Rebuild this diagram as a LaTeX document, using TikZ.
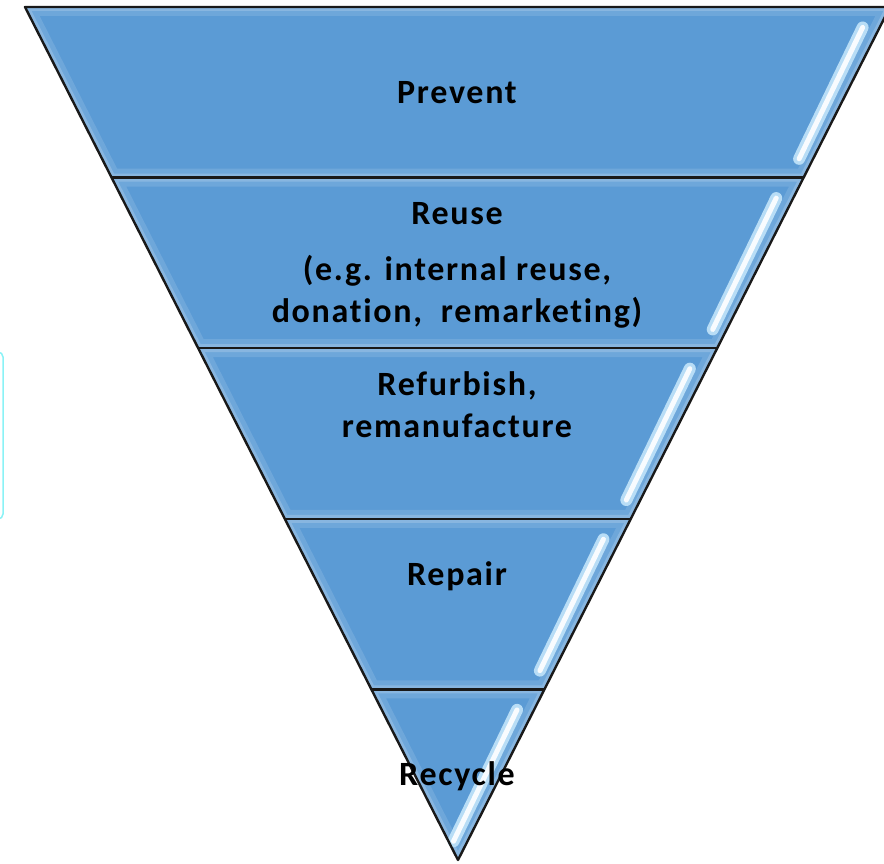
\documentclass[tikz,border=0pt]{standalone}
\usepackage{fontspec}
\setmainfont{Carlito}[Ligatures=NoCommon, LetterSpace=5]
\usetikzlibrary{calc}
\definecolor{bandblue}{HTML}{5B9BD5}
\definecolor{hlblue}{HTML}{B8DDF6}
\definecolor{bracketcyan}{HTML}{8AF2F6}
\begin{document}
\begin{tikzpicture}[x=1pt,y=-1pt,
  edge/.style={draw=black!90, line width=2.4pt, line join=round},
  lbl/.style={font=\bfseries\fontsize{34}{42}\selectfont, align=center, text=black, inner sep=0pt},
  gloss/.style={line cap=round}]
\useasboundingbox (0,0) rectangle (884,864);
\clip (0,0) rectangle (884,864);
\coordinate (TL) at (25,7);
\coordinate (TR) at (890,7);
\coordinate (A) at (458,860);
% bands
\foreach \i in {0,...,4}{
  \pgfmathsetmacro\a{\i/5}
  \pgfmathsetmacro\b{(\i+1)/5}
  \pgfmathsetmacro\c{\a+0.024}
  \pgfmathsetmacro\d{\b-0.022}
  \coordinate (p1) at ($(TL)!\a!(A)$);
  \coordinate (p2) at ($(TR)!\a!(A)$);
  \coordinate (p3) at ($(TR)!\b!(A)$);
  \coordinate (p4) at ($(TL)!\b!(A)$);
  \fill[bandblue] (p1) -- (p2) -- (p3) -- (p4) -- cycle;
  \begin{scope}
    \clip (p1) -- (p2) -- (p3) -- (p4) -- cycle;
    \draw[white, opacity=0.12, line width=18pt] (p1) -- (p2) -- (p3) -- (p4) -- cycle;
    \draw[white, opacity=0.18, line width=8pt] (p1) -- (p2) -- (p3) -- (p4) -- cycle;
  \end{scope}
  \coordinate (h1) at ($(TR)!\c!(A) + (-17,0)$);
  \coordinate (h2) at ($(TR)!\d!(A) + (-14,0)$);
  \draw[gloss, hlblue, line width=12pt] (h1) -- (h2);
  \draw[gloss, white, opacity=0.9, line width=5pt] (h1) -- (h2);
}
% outline and dividers
\draw[edge] (TL) -- (TR) -- (A) -- cycle;
\foreach \k in {1,...,4}{
  \draw[edge] ($(TL)!\k/5!(A)$) -- ($(TR)!\k/5!(A)$);
}
% side bracket
\draw[bracketcyan, line width=1.5pt, rounded corners=5pt] (-20,352) rectangle (3,519);
% labels
\node[lbl] (prevent) at (457,93) {Prevent};
\node[lbl] (reuse) at (457,214) {Reuse};
\node[lbl] (reuseeg) at (457,292) {(e.g. internal reuse,\\donation,\ \ remarketing)};
\node[lbl] (refurb) at (457,405) {Refurbish,\\remanufacture};
\node[lbl] (repair) at (457,576) {Repair};
\node[lbl] (recycle) at (457,776) {Recycle};
\end{tikzpicture}
\end{document}
